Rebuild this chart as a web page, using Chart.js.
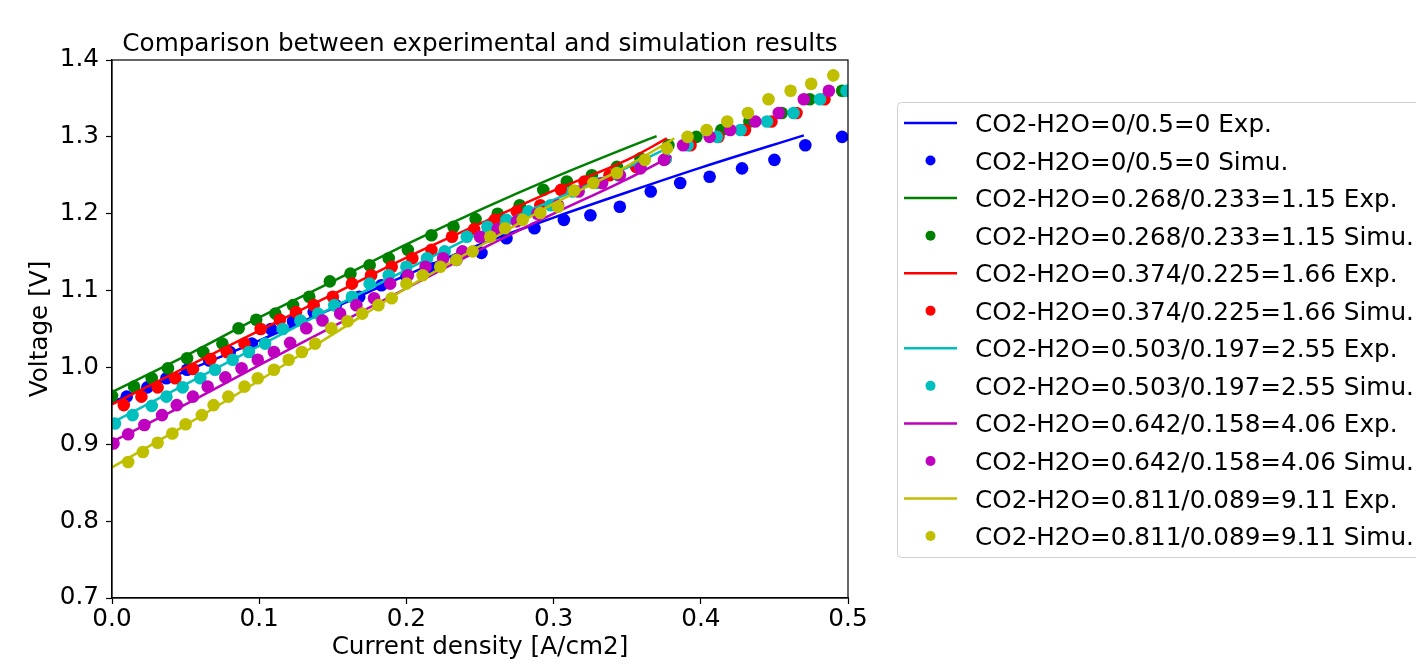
<!DOCTYPE html>
<html>
<head>
<meta charset="utf-8">
<script src="https://cdn.jsdelivr.net/npm/chart.js@4.4.0/dist/chart.umd.min.js"></script>
<style>
    html, body { margin: 0; padding: 0; background: #fff; }
    #chart { display: block; }
</style>
</head>
<body>
<canvas id="chart" width="1416" height="664"></canvas>
<script>
// compositions, in plotting order
const ratioLabels = [
    'CO2-H2O=0/0.5=0',
    'CO2-H2O=0.268/0.233=1.15',
    'CO2-H2O=0.374/0.225=1.66',
    'CO2-H2O=0.503/0.197=2.55',
    'CO2-H2O=0.642/0.158=4.06',
    'CO2-H2O=0.811/0.089=9.11'
];
const seriesColors = ['#0000ff', '#008000', '#ff0000', '#00bfbf', '#bf00bf', '#bfbf00'];

const xTicks = [0.0, 0.1, 0.2, 0.3, 0.4, 0.5];
const yTicks = [0.7, 0.8, 0.9, 1.0, 1.1, 1.2, 1.3, 1.4];

// experimental curves (current density A/cm2, voltage V)
const expJ_0 = [0, 0.05, 0.1, 0.15, 0.2, 0.25, 0.3, 0.35, 0.4, 0.47];
const expV_0 = [0.955, 0.995, 1.035, 1.077, 1.12, 1.16, 1.195, 1.228, 1.26, 1.302];
const expJ_115 = [0, 0.05, 0.1, 0.15, 0.2, 0.25, 0.3, 0.35, 0.37];
const expV_115 = [0.968, 1.015, 1.065, 1.112, 1.16, 1.205, 1.247, 1.286, 1.301];
const expJ_166 = [0, 0.05, 0.1, 0.15, 0.2, 0.25, 0.3, 0.35, 0.377];
const expV_166 = [0.952, 1.0, 1.048, 1.095, 1.143, 1.187, 1.23, 1.27, 1.298];
const expJ_255 = [0, 0.05, 0.1, 0.15, 0.2, 0.25, 0.3, 0.35, 0.38];
const expV_255 = [0.928, 0.978, 1.028, 1.078, 1.127, 1.175, 1.218, 1.26, 1.288];
const expJ_406 = [0, 0.05, 0.1, 0.15, 0.2, 0.25, 0.3, 0.35, 0.38];
const expV_406 = [0.903, 0.952, 1.003, 1.053, 1.103, 1.153, 1.2, 1.245, 1.275];
const expJ_911 = [0, 0.05, 0.1, 0.15, 0.2, 0.25, 0.3, 0.35, 0.382];
const expV_911 = [0.87, 0.925, 0.983, 1.043, 1.103, 1.158, 1.213, 1.262, 1.298];

// simulation points
const simJ_0 = [0.010, 0.024, 0.037, 0.051, 0.066, 0.080, 0.095, 0.108, 0.123, 0.137, 0.152, 0.168, 0.183, 0.200, 0.218,
    0.234, 0.251, 0.268, 0.287, 0.307, 0.325, 0.345, 0.366, 0.386, 0.406, 0.428, 0.450, 0.471, 0.496];
const simV_0 = [0.962, 0.974, 0.986, 0.997, 1.009, 1.020, 1.031, 1.050, 1.060, 1.072, 1.081, 1.092, 1.107, 1.118, 1.129,
    1.140, 1.149, 1.168, 1.181, 1.192, 1.198, 1.209, 1.229, 1.240, 1.248, 1.259, 1.270, 1.289, 1.300];
const simJ_115 = [0.000, 0.015, 0.027, 0.038, 0.051, 0.062, 0.075, 0.086, 0.098, 0.111, 0.123, 0.134, 0.148, 0.162, 0.175,
    0.188, 0.201, 0.217, 0.232, 0.247, 0.262, 0.277, 0.293, 0.309, 0.326, 0.343, 0.359, 0.378, 0.397, 0.414,
    0.433, 0.455, 0.474, 0.496];
const simV_115 = [0.963, 0.975, 0.986, 0.999, 1.012, 1.020, 1.031, 1.051, 1.062, 1.070, 1.081, 1.092, 1.112, 1.122, 1.133,
    1.142, 1.153, 1.172, 1.183, 1.193, 1.200, 1.211, 1.231, 1.242, 1.250, 1.261, 1.272, 1.289, 1.300, 1.309,
    1.320, 1.331, 1.349, 1.360];
const simJ_166 = [0.008, 0.020, 0.031, 0.043, 0.055, 0.067, 0.078, 0.090, 0.101, 0.114, 0.125, 0.137, 0.150, 0.163, 0.176,
    0.190, 0.204, 0.217, 0.231, 0.246, 0.260, 0.275, 0.291, 0.305, 0.321, 0.338, 0.356, 0.376, 0.393, 0.412,
    0.430, 0.448, 0.465, 0.484];
const simV_166 = [0.951, 0.962, 0.974, 0.986, 0.998, 1.011, 1.020, 1.031, 1.050, 1.062, 1.072, 1.081, 1.092, 1.109, 1.120,
    1.131, 1.142, 1.153, 1.170, 1.180, 1.192, 1.203, 1.211, 1.231, 1.242, 1.250, 1.261, 1.271, 1.289, 1.300,
    1.309, 1.320, 1.331, 1.349];
const simJ_255 = [0.002, 0.014, 0.027, 0.037, 0.048, 0.060, 0.070, 0.082, 0.093, 0.104, 0.116, 0.128, 0.140, 0.151, 0.163,
    0.175, 0.188, 0.200, 0.214, 0.226, 0.241, 0.255, 0.268, 0.283, 0.298, 0.313, 0.329, 0.344, 0.359, 0.376,
    0.391, 0.411, 0.427, 0.445, 0.463, 0.481, 0.499];
const simV_255 = [0.927, 0.938, 0.950, 0.962, 0.974, 0.986, 0.997, 1.010, 1.020, 1.031, 1.050, 1.061, 1.070, 1.081, 1.092,
    1.109, 1.120, 1.131, 1.142, 1.151, 1.170, 1.183, 1.192, 1.203, 1.211, 1.229, 1.240, 1.250, 1.261, 1.271,
    1.289, 1.300, 1.309, 1.320, 1.331, 1.349, 1.360];
const simJ_406 = [0.001, 0.011, 0.022, 0.034, 0.044, 0.055, 0.065, 0.077, 0.088, 0.099, 0.110, 0.121, 0.132, 0.143, 0.155,
    0.166, 0.178, 0.189, 0.201, 0.213, 0.225, 0.238, 0.250, 0.262, 0.275, 0.289, 0.303, 0.317, 0.333, 0.345,
    0.359, 0.375, 0.388, 0.406, 0.420, 0.437, 0.453, 0.470, 0.487];
const simV_406 = [0.901, 0.913, 0.925, 0.938, 0.951, 0.962, 0.975, 0.987, 0.999, 1.010, 1.020, 1.032, 1.051, 1.061, 1.070,
    1.081, 1.090, 1.109, 1.120, 1.131, 1.142, 1.151, 1.170, 1.180, 1.190, 1.200, 1.211, 1.229, 1.240, 1.250,
    1.259, 1.270, 1.289, 1.300, 1.309, 1.320, 1.331, 1.349, 1.360];
const simJ_911 = [0.011, 0.021, 0.031, 0.041, 0.050, 0.061, 0.069, 0.079, 0.090, 0.099, 0.110, 0.120, 0.129, 0.138, 0.149,
    0.160, 0.170, 0.181, 0.190, 0.200, 0.211, 0.223, 0.234, 0.245, 0.257, 0.267, 0.279, 0.291, 0.303, 0.314,
    0.327, 0.343, 0.362, 0.377, 0.391, 0.404, 0.418, 0.432, 0.446, 0.461, 0.475, 0.490];
const simV_911 = [0.877, 0.890, 0.902, 0.914, 0.926, 0.938, 0.951, 0.962, 0.975, 0.986, 0.997, 1.010, 1.020, 1.031, 1.051,
    1.060, 1.070, 1.081, 1.090, 1.109, 1.120, 1.131, 1.140, 1.151, 1.170, 1.181, 1.192, 1.201, 1.209, 1.230,
    1.240, 1.253, 1.270, 1.285, 1.300, 1.309, 1.320, 1.331, 1.349, 1.360, 1.369, 1.380];

const expSeries = [[expJ_0, expV_0], [expJ_115, expV_115], [expJ_166, expV_166],
    [expJ_255, expV_255], [expJ_406, expV_406], [expJ_911, expV_911]];
const simSeries = [[simJ_0, simV_0], [simJ_115, simV_115], [simJ_166, simV_166],
    [simJ_255, simV_255], [simJ_406, simV_406], [simJ_911, simV_911]];

const FONT = 'DejaVu Sans';
const FONT_SIZE = 24.7;

function toPoints(xs, ys) {
    return xs.map((x, i) => ({ x, y: ys[i] }));
}

// matplotlib draws later calls on top, chart.js draws lower "order" on top
const datasets = [];
ratioLabels.forEach((name, i) => {
    const color = seriesColors[i];
    datasets.push({
        label: `${name} Exp.`,
        data: toPoints(...expSeries[i]),
        borderColor: color,
        backgroundColor: color,
        borderWidth: 2.5,
        pointRadius: 0,
        showLine: true,
        cubicInterpolationMode: 'monotone',
        clip: 0
    });
    datasets.push({
        label: `${name} Simu.`,
        data: toPoints(...simSeries[i]),
        borderColor: color,
        backgroundColor: color,
        pointBackgroundColor: color,
        pointBorderWidth: 0,
        pointRadius: 6.3,
        showLine: false,
        clip: 0
    });
});
datasets.forEach((ds, i) => { ds.order = datasets.length - i; });

// title, box frame and legend (matplotlib style)
const decorPlugin = {
    id: 'decor',
    afterDraw(chart) {
        const ctx = chart.ctx;
        const { left, right, top, bottom } = chart.chartArea;
        ctx.save();

        // axes frame
        ctx.strokeStyle = '#000';
        ctx.lineWidth = 1.2;
        ctx.strokeRect(left, top, right - left, bottom - top);

        // title
        ctx.fillStyle = '#000';
        ctx.font = `${FONT_SIZE}px "${FONT}"`;
        ctx.textAlign = 'center';
        ctx.textBaseline = 'alphabetic';
        ctx.fillText('Comparison between experimental and simulation results', (left + right) / 2, 51);

        // legend box
        const boxX = 897.5, boxY = 102.5, boxW = 560, boxH = 455, r = 4;
        ctx.beginPath();
        ctx.moveTo(boxX + r, boxY);
        ctx.lineTo(boxX + boxW, boxY);
        ctx.lineTo(boxX + boxW, boxY + boxH);
        ctx.lineTo(boxX + r, boxY + boxH);
        ctx.arcTo(boxX, boxY + boxH, boxX, boxY + boxH - r, r);
        ctx.lineTo(boxX, boxY + r);
        ctx.arcTo(boxX, boxY, boxX + r, boxY, r);
        ctx.closePath();
        ctx.fillStyle = 'rgba(255,255,255,0.8)';
        ctx.fill();
        ctx.strokeStyle = '#d0d0d0';
        ctx.lineWidth = 1;
        ctx.stroke();

        const rowStart = 123, rowStep = 37.55;
        ctx.textAlign = 'left';
        chart.data.datasets.forEach((ds, i) => {
            const y = rowStart + i * rowStep;
            if (ds.showLine) {
                ctx.strokeStyle = ds.borderColor;
                ctx.lineWidth = 2.5;
                ctx.beginPath();
                ctx.moveTo(904, y);
                ctx.lineTo(957, y);
                ctx.stroke();
            } else {
                ctx.fillStyle = ds.backgroundColor;
                ctx.beginPath();
                ctx.arc(930.5, y, 5, 0, Math.PI * 2);
                ctx.fill();
            }
            ctx.fillStyle = '#000';
            ctx.fillText(ds.label, 975, y + 9);
        });

        ctx.restore();
    }
};

new Chart(document.getElementById('chart'), {
    type: 'line',
    data: { datasets },
    options: {
        responsive: false,
        animation: false,
        devicePixelRatio: 1,
        layout: {
            padding: { left: 0, right: 568, top: 60, bottom: 0 }
        },
        plugins: {
            legend: { display: false },
            title: { display: false },
            tooltip: { enabled: false }
        },
        scales: {
            x: {
                type: 'linear',
                min: xTicks[0],
                max: xTicks[xTicks.length - 1],
                afterFit: scale => { scale.height = 66; },
                afterBuildTicks: scale => { scale.ticks = xTicks.map(v => ({ value: v })); },
                ticks: {
                    color: '#000',
                    font: { family: FONT, size: FONT_SIZE },
                    padding: 1,
                    maxRotation: 0,
                    autoSkip: false,
                    callback: v => v.toFixed(1)
                },
                grid: {
                    drawOnChartArea: false,
                    drawTicks: true,
                    tickLength: 6,
                    tickColor: '#000',
                    tickWidth: 1.2
                },
                border: { display: true, color: '#000', width: 1.2 },
                title: {
                    display: true,
                    text: 'Current density [A/cm2]',
                    color: '#000',
                    font: { family: FONT, size: FONT_SIZE },
                    padding: { top: 0, bottom: 2 }
                }
            },
            y: {
                type: 'linear',
                min: yTicks[0],
                max: yTicks[yTicks.length - 1],
                afterFit: scale => { scale.width = 112; },
                afterBuildTicks: scale => { scale.ticks = yTicks.map(v => ({ value: v })); },
                ticks: {
                    color: '#000',
                    font: { family: FONT, size: FONT_SIZE },
                    padding: 7,
                    autoSkip: false,
                    callback: v => v.toFixed(1)
                },
                grid: {
                    drawOnChartArea: false,
                    drawTicks: true,
                    tickLength: 6,
                    tickColor: '#000',
                    tickWidth: 1.2
                },
                border: { display: true, color: '#000', width: 1.2 },
                title: {
                    display: true,
                    text: 'Voltage [V]',
                    color: '#000',
                    font: { family: FONT, size: FONT_SIZE },
                    padding: { top: 26, bottom: 0 }
                }
            }
        }
    },
    plugins: [decorPlugin]
});
</script>
</body>
</html>
